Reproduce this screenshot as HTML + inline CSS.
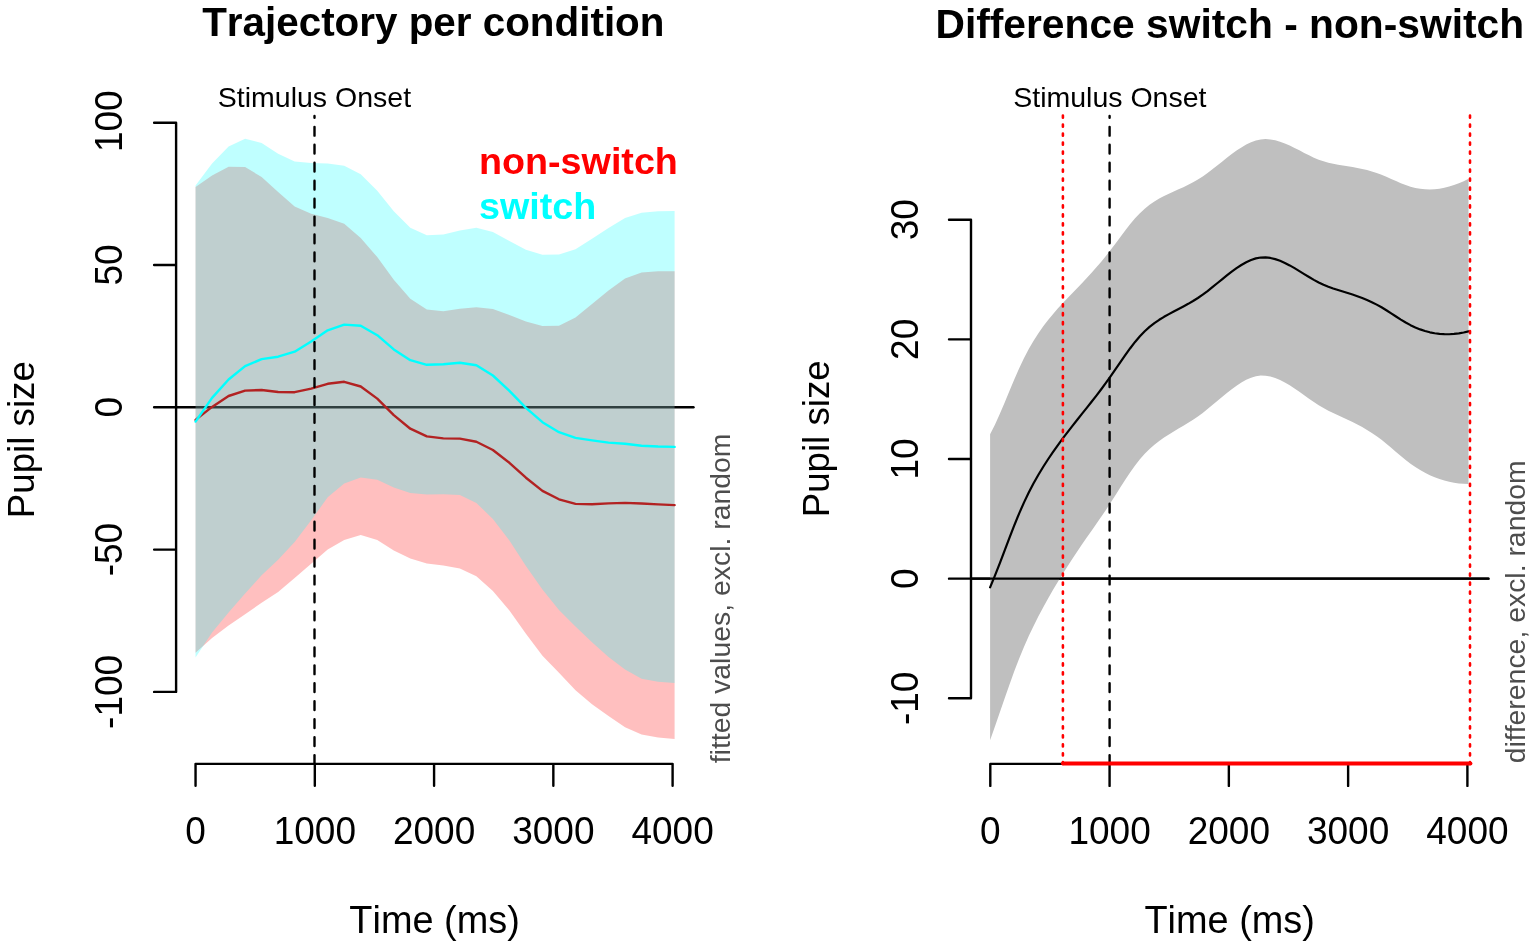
<!DOCTYPE html>
<html><head><meta charset="utf-8"><title>Pupil size plots</title>
<style>html,body{margin:0;padding:0;background:#fff;}svg{display:block;}text{font-kerning:none;}</style>
</head><body>
<svg width="1535" height="947" viewBox="0 0 1535 947" font-family="'Liberation Sans', sans-serif">
<rect width="1535" height="947" fill="#fff"/>
<line x1="176.1" y1="407.3" x2="693.5" y2="407.3" stroke="#000" stroke-width="2.4" stroke-linecap="round"/>
<polygon points="195.55,186.90 212.07,175.60 228.59,166.70 245.11,166.90 261.63,177.10 278.14,192.00 294.66,206.40 311.18,213.70 327.70,218.10 344.22,223.70 360.74,238.10 377.26,257.10 393.78,279.70 410.30,298.70 426.82,309.50 443.33,311.30 459.85,308.70 476.37,307.20 492.89,308.90 509.41,315.10 525.93,321.50 542.45,325.90 558.97,325.70 575.49,317.60 592.01,304.10 608.52,290.60 625.04,278.60 641.56,272.50 658.08,271.20 674.60,271.30 674.60,739.00 658.08,737.60 641.56,734.50 625.04,727.20 608.52,716.10 592.01,704.30 575.49,690.20 558.97,672.80 542.45,655.80 525.93,633.80 509.41,610.40 492.89,591.00 476.37,576.20 459.85,568.60 443.33,565.50 426.82,563.40 410.30,558.60 393.78,550.50 377.26,540.00 360.74,535.00 344.22,539.90 327.70,549.60 311.18,563.80 294.66,577.90 278.14,591.90 261.63,602.80 245.11,614.30 228.59,625.40 212.07,638.10 195.55,652.80" fill="rgb(255,0,0)" fill-opacity="0.25"/>
<polygon points="195.55,185.60 212.07,163.40 228.59,146.50 245.11,138.70 261.63,142.90 278.14,153.70 294.66,161.60 311.18,162.90 327.70,163.40 344.22,165.70 360.74,174.20 377.26,190.70 393.78,211.30 410.30,227.70 426.82,235.20 443.33,234.40 459.85,230.40 476.37,227.70 492.89,231.90 509.41,241.10 525.93,249.70 542.45,254.80 558.97,254.60 575.49,249.20 592.01,238.70 608.52,228.10 625.04,218.00 641.56,212.80 658.08,211.30 674.60,210.90 674.60,683.00 658.08,681.80 641.56,678.70 625.04,669.50 608.52,657.10 592.01,642.20 575.49,626.60 558.97,609.90 542.45,589.60 525.93,565.90 509.41,540.40 492.89,519.10 476.37,502.90 459.85,494.90 443.33,494.30 426.82,494.40 410.30,492.90 393.78,487.50 377.26,479.80 360.74,477.50 344.22,483.50 327.70,497.30 311.18,520.30 294.66,541.90 278.14,559.70 261.63,575.30 245.11,593.50 228.59,612.50 212.07,632.40 195.55,657.60" fill="rgb(0,255,255)" fill-opacity="0.25"/>
<polyline points="195.55,419.90 212.07,406.90 228.59,396.00 245.11,390.60 261.63,390.00 278.14,392.00 294.66,392.20 311.18,388.70 327.70,383.80 344.22,381.80 360.74,386.50 377.26,398.60 393.78,415.10 410.30,428.70 426.82,436.40 443.33,438.40 459.85,438.60 476.37,441.80 492.89,450.00 509.41,462.80 525.93,477.70 542.45,490.90 558.97,499.30 575.49,503.90 592.01,504.20 608.52,503.40 625.04,502.90 641.56,503.50 658.08,504.40 674.60,505.10" fill="none" stroke="#b22222" stroke-width="2.4" stroke-linejoin="round" stroke-linecap="round"/>
<polyline points="195.55,421.60 212.07,397.90 228.59,379.50 245.11,366.10 261.63,359.10 278.14,356.70 294.66,351.70 311.18,341.60 327.70,330.30 344.22,324.60 360.74,325.80 377.26,335.20 393.78,349.40 410.30,360.20 426.82,364.80 443.33,364.30 459.85,362.70 476.37,365.30 492.89,375.50 509.41,390.80 525.93,407.80 542.45,422.20 558.97,432.20 575.49,437.90 592.01,440.40 608.52,442.60 625.04,443.80 641.56,445.70 658.08,446.50 674.60,446.90" fill="none" stroke="#00ffff" stroke-width="2.4" stroke-linejoin="round" stroke-linecap="round"/>
<line x1="314.5" y1="115.9" x2="314.5" y2="763.85" stroke="#000" stroke-width="2.4" stroke-dasharray="8.8 9.15" stroke-dashoffset="7.0" stroke-linecap="round"/>
<path d="M176.1,122.7 V691.9 M154.10,122.70 H176.1 M154.10,265.00 H176.1 M154.10,407.30 H176.1 M154.10,549.60 H176.1 M154.10,691.90 H176.1" stroke="#000" stroke-width="2.4" fill="none" stroke-linecap="round" stroke-linejoin="round"/>
<path d="M195.55,763.85 H672.60 M195.55,763.85 V785.85 M314.81,763.85 V785.85 M434.08,763.85 V785.85 M553.34,763.85 V785.85 M672.60,763.85 V785.85" stroke="#000" stroke-width="2.4" fill="none" stroke-linecap="round" stroke-linejoin="round"/>
<text x="0" y="0" font-size="37" font-weight="normal" text-anchor="middle" fill="#000" transform="translate(122.3 121.20) rotate(-90) scale(1 1.03)">100</text>
<text x="0" y="0" font-size="37" font-weight="normal" text-anchor="middle" fill="#000" transform="translate(122.3 265.00) rotate(-90) scale(1 1.03)">50</text>
<text x="0" y="0" font-size="37" font-weight="normal" text-anchor="middle" fill="#000" transform="translate(122.3 407.30) rotate(-90) scale(1 1.03)">0</text>
<text x="0" y="0" font-size="37" font-weight="normal" text-anchor="middle" fill="#000" transform="translate(122.3 549.60) rotate(-90) scale(1 1.03)">-50</text>
<text x="0" y="0" font-size="37" font-weight="normal" text-anchor="middle" fill="#000" transform="translate(122.3 691.90) rotate(-90) scale(1 1.03)">-100</text>
<text x="0" y="0" font-size="37" font-weight="normal" text-anchor="middle" fill="#000" transform="translate(195.55 843.5) scale(1 1.03)">0</text>
<text x="0" y="0" font-size="37" font-weight="normal" text-anchor="middle" fill="#000" transform="translate(314.81 843.5) scale(1 1.03)">1000</text>
<text x="0" y="0" font-size="37" font-weight="normal" text-anchor="middle" fill="#000" transform="translate(434.08 843.5) scale(1 1.03)">2000</text>
<text x="0" y="0" font-size="37" font-weight="normal" text-anchor="middle" fill="#000" transform="translate(553.34 843.5) scale(1 1.03)">3000</text>
<text x="0" y="0" font-size="37" font-weight="normal" text-anchor="middle" fill="#000" transform="translate(672.60 843.5) scale(1 1.03)">4000</text>
<text x="434.6" y="933.4" font-size="37.9" font-weight="normal" text-anchor="middle" fill="#000">Time (ms)</text>
<text x="33.8" y="439.7" font-size="36.7" font-weight="normal" text-anchor="middle" fill="#000" transform="rotate(-90 33.8 439.7)">Pupil size</text>
<text x="433.3" y="35.8" font-size="40.4" font-weight="bold" text-anchor="middle" fill="#000">Trajectory per condition</text>
<text x="314.45" y="106.8" font-size="28.5" font-weight="normal" text-anchor="middle" fill="#000">Stimulus Onset</text>
<text x="479" y="173.8" font-size="37.7" font-weight="bold" text-anchor="start" fill="#ff0000">non-switch</text>
<text x="479" y="218.8" font-size="37.7" font-weight="bold" text-anchor="start" fill="#00ffff">switch</text>
<text x="729.9" y="763.3" font-size="28.4" font-weight="normal" text-anchor="start" fill="#4d4d4d" transform="rotate(-90 729.9 763.3)">fitted values, excl. random</text>
<line x1="971" y1="578.65" x2="1488.4" y2="578.65" stroke="#000" stroke-width="2.4" stroke-linecap="round"/>
<polygon points="990.10,434.37 994.93,424.73 999.76,414.05 1004.60,402.71 1009.43,391.07 1014.26,379.52 1019.09,368.48 1023.93,358.31 1028.76,349.08 1033.59,340.72 1038.42,333.16 1043.26,326.30 1048.09,320.00 1052.92,314.14 1057.75,308.61 1062.58,303.34 1067.42,298.25 1072.25,293.26 1077.08,288.29 1081.91,283.26 1086.75,278.11 1091.58,272.82 1096.41,267.35 1101.24,261.67 1106.08,255.76 1110.91,249.59 1115.74,243.18 1120.57,236.69 1125.41,230.27 1130.24,224.10 1135.07,218.34 1139.90,213.15 1144.73,208.66 1149.57,204.81 1154.40,201.50 1159.23,198.61 1164.06,196.06 1168.90,193.73 1173.73,191.53 1178.56,189.37 1183.39,187.17 1188.23,184.85 1193.06,182.35 1197.89,179.58 1202.72,176.47 1207.55,173.03 1212.39,169.36 1217.22,165.55 1222.05,161.68 1226.88,157.83 1231.72,154.11 1236.55,150.59 1241.38,147.38 1246.21,144.56 1251.05,142.24 1255.88,140.50 1260.71,139.43 1265.54,139.09 1270.37,139.40 1275.21,140.28 1280.04,141.65 1284.87,143.43 1289.70,145.53 1294.54,147.88 1299.37,150.36 1304.20,152.88 1309.03,155.34 1313.87,157.63 1318.70,159.67 1323.53,161.35 1328.36,162.70 1333.19,163.80 1338.03,164.72 1342.86,165.52 1347.69,166.28 1352.52,167.08 1357.36,167.95 1362.19,168.94 1367.02,170.09 1371.85,171.41 1376.69,172.95 1381.52,174.75 1386.35,176.76 1391.18,178.91 1396.02,181.07 1400.85,183.15 1405.68,185.05 1410.51,186.65 1415.34,187.88 1420.18,188.75 1425.01,189.25 1429.84,189.40 1434.67,189.21 1439.51,188.67 1444.34,187.81 1449.17,186.62 1454.00,185.11 1458.84,183.29 1463.67,181.17 1468.50,178.75 1468.50,484.02 1463.67,483.87 1458.84,483.47 1454.00,482.80 1449.17,481.85 1444.34,480.62 1439.51,479.11 1434.67,477.30 1429.84,475.20 1425.01,472.78 1420.18,470.06 1415.34,467.02 1410.51,463.65 1405.68,459.95 1400.85,456.01 1396.02,451.93 1391.18,447.81 1386.35,443.75 1381.52,439.87 1376.69,436.27 1371.85,432.96 1367.02,429.92 1362.19,427.11 1357.36,424.50 1352.52,422.06 1347.69,419.76 1342.86,417.54 1338.03,415.33 1333.19,413.07 1328.36,410.68 1323.53,408.09 1318.70,405.23 1313.87,402.08 1309.03,398.72 1304.20,395.26 1299.37,391.80 1294.54,388.44 1289.70,385.29 1284.87,382.43 1280.04,379.96 1275.21,377.96 1270.37,376.52 1265.54,375.71 1260.71,375.62 1255.88,376.33 1251.05,377.77 1246.21,379.87 1241.38,382.53 1236.55,385.66 1231.72,389.16 1226.88,392.95 1222.05,396.92 1217.22,400.99 1212.39,405.07 1207.55,409.06 1202.72,412.89 1197.89,416.45 1193.06,419.73 1188.23,422.80 1183.39,425.73 1178.56,428.60 1173.73,431.47 1168.90,434.44 1164.06,437.58 1159.23,440.98 1154.40,444.75 1149.57,449.00 1144.73,453.81 1139.90,459.30 1135.07,465.51 1130.24,472.33 1125.41,479.59 1120.57,487.11 1115.74,494.74 1110.91,502.30 1106.08,509.65 1101.24,516.78 1096.41,523.77 1091.58,530.68 1086.75,537.59 1081.91,544.56 1077.08,551.66 1072.25,558.94 1067.42,566.40 1062.58,574.07 1057.75,581.96 1052.92,590.10 1048.09,598.50 1043.26,607.22 1038.42,616.32 1033.59,625.90 1028.76,636.05 1023.93,646.93 1019.09,658.67 1014.26,671.30 1009.43,684.64 1004.60,698.46 999.76,712.53 994.93,726.57 990.10,740.31" fill="#bfbfbf"/>
<polyline points="990.10,587.34 994.93,575.65 999.76,563.29 1004.60,550.59 1009.43,537.86 1014.26,525.41 1019.09,513.57 1023.93,502.62 1028.76,492.57 1033.59,483.31 1038.42,474.74 1043.26,466.76 1048.09,459.25 1052.92,452.12 1057.75,445.29 1062.58,438.70 1067.42,432.33 1072.25,426.10 1077.08,419.98 1081.91,413.91 1086.75,407.85 1091.58,401.75 1096.41,395.56 1101.24,389.23 1106.08,382.70 1110.91,375.95 1115.74,368.96 1120.57,361.90 1125.41,354.93 1130.24,348.22 1135.07,341.92 1139.90,336.22 1144.73,331.24 1149.57,326.90 1154.40,323.12 1159.23,319.80 1164.06,316.82 1168.90,314.09 1173.73,311.50 1178.56,308.98 1183.39,306.45 1188.23,303.83 1193.06,301.04 1197.89,298.01 1202.72,294.68 1207.55,291.05 1212.39,287.22 1217.22,283.27 1222.05,279.30 1226.88,275.39 1231.72,271.64 1236.55,268.13 1241.38,264.96 1246.21,262.22 1251.05,260.01 1255.88,258.41 1260.71,257.53 1265.54,257.40 1270.37,257.96 1275.21,259.12 1280.04,260.81 1284.87,262.93 1289.70,265.41 1294.54,268.16 1299.37,271.08 1304.20,274.07 1309.03,277.03 1313.87,279.86 1318.70,282.45 1323.53,284.72 1328.36,286.69 1333.19,288.44 1338.03,290.03 1342.86,291.53 1347.69,293.02 1352.52,294.57 1357.36,296.23 1362.19,298.03 1367.02,300.00 1371.85,302.18 1376.69,304.61 1381.52,307.31 1386.35,310.26 1391.18,313.36 1396.02,316.50 1400.85,319.58 1405.68,322.50 1410.51,325.15 1415.34,327.45 1420.18,329.40 1425.01,331.02 1429.84,332.30 1434.67,333.26 1439.51,333.89 1444.34,334.21 1449.17,334.23 1454.00,333.95 1458.84,333.38 1463.67,332.52 1468.50,331.38" fill="none" stroke="#000" stroke-width="2.2" stroke-linejoin="round" stroke-linecap="round"/>
<line x1="971" y1="578.65" x2="1488.4" y2="578.65" stroke="#000" stroke-width="2.4" stroke-linecap="round"/>
<line x1="1109.6" y1="115.9" x2="1109.6" y2="763.9" stroke="#000" stroke-width="2.4" stroke-dasharray="8.8 9.15" stroke-dashoffset="7.0" stroke-linecap="round"/>
<line x1="1062.9" y1="115.6" x2="1062.9" y2="763.9" stroke="#ff0000" stroke-width="2.6" stroke-dasharray="2.2 6.78" stroke-linecap="round"/>
<line x1="1470.0" y1="115.6" x2="1470.0" y2="763.9" stroke="#ff0000" stroke-width="2.6" stroke-dasharray="2.2 6.78" stroke-linecap="round"/>
<path d="M971.0,219.70 V698.30 M949.00,219.70 H971.0 M949.00,339.35 H971.0 M949.00,459.00 H971.0 M949.00,578.65 H971.0 M949.00,698.30 H971.0" stroke="#000" stroke-width="2.4" fill="none" stroke-linecap="round" stroke-linejoin="round"/>
<path d="M990.30,763.9 H1467.40 M990.30,763.9 V785.90 M1109.58,763.9 V785.90 M1228.85,763.9 V785.90 M1348.12,763.9 V785.90 M1467.40,763.9 V785.90" stroke="#000" stroke-width="2.4" fill="none" stroke-linecap="round" stroke-linejoin="round"/>
<line x1="1063" y1="763.5" x2="1470.4" y2="763.5" stroke="#ff0000" stroke-width="4" stroke-linecap="round"/>
<text x="0" y="0" font-size="37" font-weight="normal" text-anchor="middle" fill="#000" transform="translate(918.2 219.70) rotate(-90) scale(1 1.03)">30</text>
<text x="0" y="0" font-size="37" font-weight="normal" text-anchor="middle" fill="#000" transform="translate(918.2 339.35) rotate(-90) scale(1 1.03)">20</text>
<text x="0" y="0" font-size="37" font-weight="normal" text-anchor="middle" fill="#000" transform="translate(918.2 459.00) rotate(-90) scale(1 1.03)">10</text>
<text x="0" y="0" font-size="37" font-weight="normal" text-anchor="middle" fill="#000" transform="translate(918.2 578.65) rotate(-90) scale(1 1.03)">0</text>
<text x="0" y="0" font-size="37" font-weight="normal" text-anchor="middle" fill="#000" transform="translate(918.2 698.30) rotate(-90) scale(1 1.03)">-10</text>
<text x="0" y="0" font-size="37" font-weight="normal" text-anchor="middle" fill="#000" transform="translate(990.30 843.5) scale(1 1.03)">0</text>
<text x="0" y="0" font-size="37" font-weight="normal" text-anchor="middle" fill="#000" transform="translate(1109.58 843.5) scale(1 1.03)">1000</text>
<text x="0" y="0" font-size="37" font-weight="normal" text-anchor="middle" fill="#000" transform="translate(1228.85 843.5) scale(1 1.03)">2000</text>
<text x="0" y="0" font-size="37" font-weight="normal" text-anchor="middle" fill="#000" transform="translate(1348.12 843.5) scale(1 1.03)">3000</text>
<text x="0" y="0" font-size="37" font-weight="normal" text-anchor="middle" fill="#000" transform="translate(1467.40 843.5) scale(1 1.03)">4000</text>
<text x="1229.7" y="933.4" font-size="37.9" font-weight="normal" text-anchor="middle" fill="#000">Time (ms)</text>
<text x="828.9" y="438.8" font-size="36.7" font-weight="normal" text-anchor="middle" fill="#000" transform="rotate(-90 828.9 438.8)">Pupil size</text>
<text x="1229.8" y="38.1" font-size="40.75" font-weight="bold" text-anchor="middle" fill="#000">Difference switch - non-switch</text>
<text x="1109.85" y="106.8" font-size="28.5" font-weight="normal" text-anchor="middle" fill="#000">Stimulus Onset</text>
<text x="1524.8" y="763.3" font-size="28.4" font-weight="normal" text-anchor="start" fill="#4d4d4d" transform="rotate(-90 1524.8 763.3)">difference, excl. random</text>
</svg>
</body></html>
